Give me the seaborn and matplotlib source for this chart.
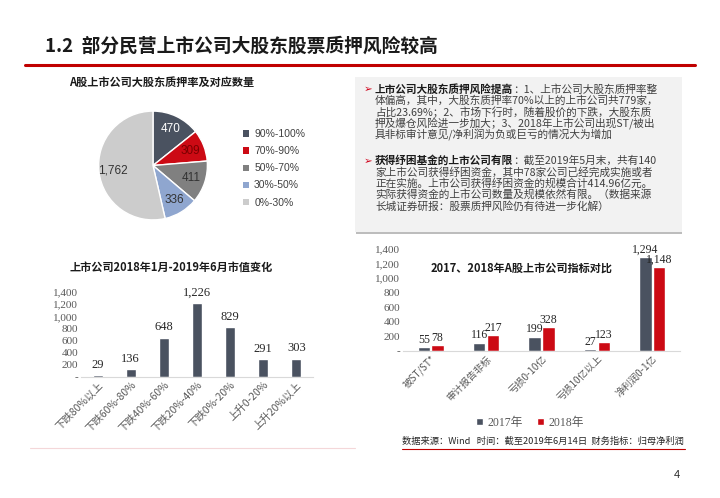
import matplotlib
matplotlib.use("Agg")
import matplotlib.pyplot as plt
import seaborn as sns
import pandas as pd
from matplotlib.patches import Rectangle, Patch
from matplotlib.lines import Line2D
from matplotlib.ticker import FuncFormatter, MultipleLocator

# pie: pledge ratio buckets
pie_labels = ["90%-100%", "70%-90%", "50%-70%", "30%-50%", "0%-30%"]
pie_values = [470, 309, 411, 336, 1762]

# left bars: market cap change
cap_cats = ["下跌80%以上", "下跌60%-80%", "下跌40%-60%", "下跌20%-40%", "下跌0%-20%", "上升0-20%", "上升20%以上"]
cap_values = [29, 136, 648, 1226, 829, 291, 303]

# right bars: 2017 vs 2018 indicators
ind_cats = ["被ST/ST*", "审计报告非标", "亏损0-10亿", "亏损10亿以上", "净利润0-1亿"]
ind_2017 = [55, 116, 199, 27, 1294]
ind_2018 = [78, 217, 328, 123, 1148]

DARK = "#4a5260"
RED = "#cc0a14"
TICK = "#595959"
CJK = ["Noto Sans CJK SC", "DejaVu Sans"]
SERIF = ["Liberation Serif", "Noto Sans CJK SC"]

sns.set_theme(style="white")
plt.rcParams["font.family"] = CJK

W, H = 720, 498
fig = plt.figure(figsize=(W / 100, H / 100), dpi=100)


def fx(x):
    return x / W


def fy(y):
    return 1 - y / H


def box(x0, y0, x1, y1):
    return [fx(x0), fy(y1), fx(x1) - fx(x0), fy(y0) - fy(y1)]


# header
fig.text(fx(45), fy(46), "1.2  部分民营上市公司大股东股票质押风险较高", fontsize=13.5,
         fontweight="bold", color="#1a1a1a", va="center", ha="left")
fig.add_artist(Line2D([fx(25), fx(695)], [fy(64.5), fy(64.5)], color="#c00000", lw=2.2))

# ---- pie ----
ax_pie = fig.add_axes(box(85, 97.5, 221, 233.5))
pie_colors = [DARK, RED, "#808080", "#8fa6cf", "#cccccc"]
wedges, _, autotexts = ax_pie.pie(pie_values, colors=pie_colors, startangle=90, counterclock=False,
                                  autopct=lambda p: f"{p * sum(pie_values) / 100:,.0f}",
                                  pctdistance=0.74, wedgeprops=dict(edgecolor="white", linewidth=1))
txt_cols = ["white", "#7a0000", "#333333", "#333333", "#333333"]
for t, c in zip(autotexts, txt_cols):
    t.set_color(c)
    t.set_fontsize(8.5)
    t.set_family(["Liberation Sans", "DejaVu Sans"])
ax_pie.set_aspect("equal")
fig.text(fx(162), fy(82), "A股上市公司大股东质押率及对应数量", fontsize=8, fontweight="bold",
         ha="center", va="center", color="#1a1a1a")
handles = [Patch(facecolor=c, edgecolor="none") for c in pie_colors]
fig.legend(handles, pie_labels, loc="upper left", bbox_to_anchor=(fx(238), fy(124)), frameon=False,
           prop={"family": ["Liberation Sans", "DejaVu Sans"], "size": 7.5}, labelcolor="#404040",
           handlelength=0.55, handleheight=0.55, handletextpad=0.5, labelspacing=0.68, borderpad=0)

# ---- text box ----
fig.add_artist(Rectangle((fx(356), fy(234)), fx(682) - fx(356), fy(77) - fy(234),
                         transform=fig.transFigure, facecolor="#bdbdbd", edgecolor="none"))
fig.add_artist(Rectangle((fx(355), fy(232)), fx(682) - fx(355), fy(77) - fy(232),
                         transform=fig.transFigure, facecolor="#f2f2f2", edgecolor="none"))

paras = [
    ("上市公司大股东质押风险提高", [
        "：1、上市公司大股东质押率整",
        "体偏高，其中，大股东质押率70%以上的上市公司共779家，",
        "占比23.69%；2、市场下行时，随着股价的下跌，大股东质",
        "押及爆仓风险进一步加大；3、2018年上市公司出现ST/被出",
        "具非标审计意见/净利润为负或巨亏的情况大为增加"], 89.3),
    ("获得纾困基金的上市公司有限", [
        "：截至2019年5月末，共有140",
        "家上市公司获得纾困资金，其中78家公司已经完成实施或者",
        "正在实施。上市公司获得纾困资金的规模合计414.96亿元。",
        "实际获得资金的上市公司数量及规模依然有限。（数据来源",
        "长城证券研报：股票质押风险仍有待进一步化解）"], 160.7),
]
for head, lines, y0 in paras:
    fig.text(fx(364), fy(y0), "➢", fontsize=7.5, color="#d0021b", family=["DejaVu Sans"],
             va="center", ha="left")
    tb = fig.text(fx(375), fy(y0), head, fontsize=7.7, fontweight="bold", color="#1a1a1a",
                  va="center", ha="left")
    fig.texts.append(matplotlib.text.Annotation(lines[0], xy=(1, 0.5), xycoords=tb, va="center",
                                                ha="left", fontsize=7.7, color="#404040"))
    fig.texts[-1].set_figure(fig)
    for i, ln in enumerate(lines[1:], start=1):
        fig.text(fx(375), fy(y0 + i * 11.4), ln, fontsize=7.7, color="#404040", va="center", ha="left")


def fmt(v, pos=None):
    return "-" if v == 0 else f"{v:,.0f}"


def style_bar_axes(ax, xsize):
    ax.set_ylim(0, 1400)
    ax.yaxis.set_major_locator(MultipleLocator(200))
    ax.yaxis.set_major_formatter(FuncFormatter(fmt))
    for s in ["top", "right", "left"]:
        ax.spines[s].set_visible(False)
    ax.spines["bottom"].set_color("#d9d9d9")
    ax.spines["bottom"].set_linewidth(0.8)
    ax.tick_params(axis="both", length=0, pad=2)
    ax.set_xlabel("")
    ax.set_ylabel("")
    ax.set_facecolor("none")
    for lab in ax.get_yticklabels():
        lab.set_family(SERIF)
        lab.set_fontsize(8)
        lab.set_color(TICK)
    for lab in ax.get_xticklabels():
        lab.set_rotation(45)
        lab.set_ha("right")
        lab.set_rotation_mode("anchor")
        lab.set_fontsize(xsize)
        lab.set_color(TICK)


# ---- left bar chart ----
ax_l = fig.add_axes(box(81, 292, 313, 377))
df_cap = pd.DataFrame({"cat": cap_cats, "value": cap_values})
sns.barplot(data=df_cap, x="cat", y="value", color=DARK, width=0.3, saturation=1, ax=ax_l)
style_bar_axes(ax_l, 7.5)
for c in ax_l.containers:
    ax_l.bar_label(c, labels=[f"{v:,.0f}" for v in cap_values], padding=3, fontsize=9,
                   family=SERIF, color="#262626")
fig.text(fx(171), fy(267), "上市公司2018年1月-2019年6月市值变化", fontsize=8, fontweight="bold",
         ha="center", va="center", color="#1a1a1a")
fig.add_artist(Line2D([fx(30), fx(355)], [fy(448), fy(448)], color="#f4d7d9", lw=0.8))

# ---- right bar chart ----
ax_r = fig.add_axes(box(403, 249, 680, 351))
df_ind = pd.DataFrame({
    "cat": ind_cats * 2,
    "year": ["2017年"] * len(ind_cats) + ["2018年"] * len(ind_cats),
    "value": ind_2017 + ind_2018,
})
sns.barplot(data=df_ind, x="cat", y="value", hue="year", palette=[DARK, RED], width=0.5, gap=0.1,
            saturation=1, legend=False, ax=ax_r)
style_bar_axes(ax_r, 7)
for c, vals in zip(ax_r.containers, [ind_2017, ind_2018]):
    ax_r.bar_label(c, labels=[f"{v:,.0f}" for v in vals], padding=1, fontsize=8.5,
                   family=SERIF, color="#262626", clip_on=False)
fig.text(fx(522), fy(268), "2017、2018年A股上市公司指标对比", fontsize=8, fontweight="bold",
         ha="center", va="center", color="#1a1a1a")
fig.legend([Patch(facecolor=DARK), Patch(facecolor=RED)], ["2017年", "2018年"], ncol=2,
           loc="center", bbox_to_anchor=(fx(530), fy(423)), frameon=False,
           prop={"family": SERIF, "size": 8.5}, labelcolor=TICK, handlelength=0.55,
           handleheight=0.55, handletextpad=0.4, columnspacing=1.2)

# footer
fig.text(fx(402), fy(441), "数据来源：Wind   时间：截至2019年6月14日  财务指标：归母净利润",
         fontsize=6.7, color="#262626", ha="left", va="center")
fig.add_artist(Line2D([fx(402), fx(685)], [fy(449), fy(449)], color="#c00000", lw=0.8))
fig.text(fx(677), fy(475), "4", fontsize=8, color="#262626", ha="center", va="center",
         family=["Liberation Sans"])

fig.savefig("out.png", dpi=100)
